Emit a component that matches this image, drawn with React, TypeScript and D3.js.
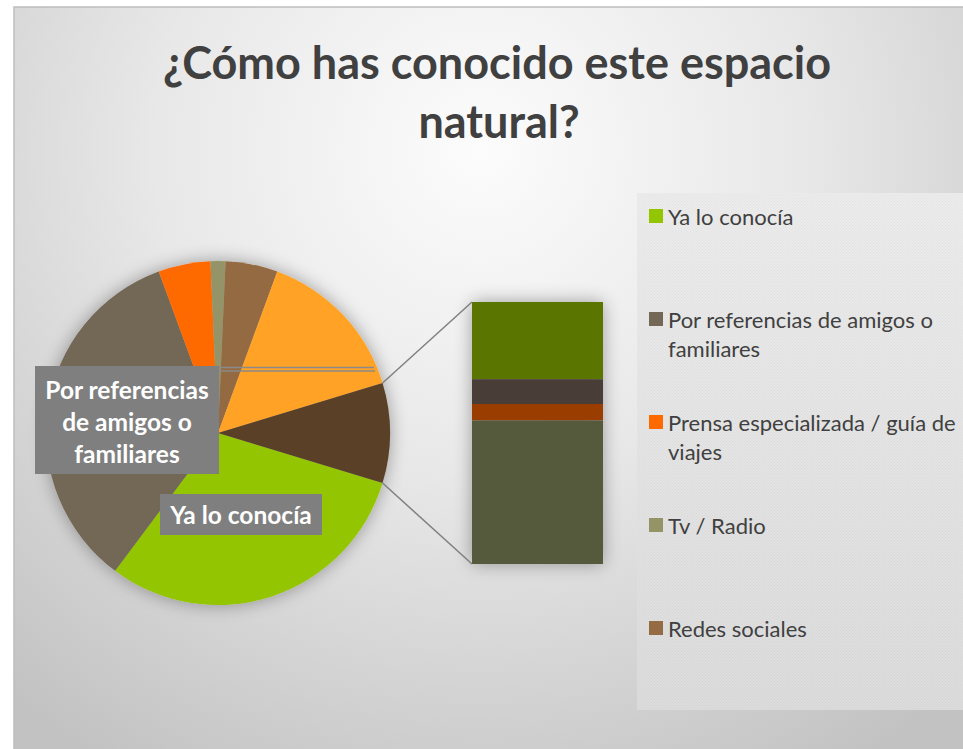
import React from 'react';
import * as d3 from 'd3';

// pie slices, clockwise starting right after the "other" slice
const pieLabels = ['Ya lo conocía', 'Por referencias de amigos o familiares', 'Prensa especializada / guía de viajes', 'Tv / Radio', 'Redes sociales', 'Otros medios', 'Otros'];
const pieValues = [30.5, 34.2, 4.9, 1.4, 4.9, 14.7, 9.4];
const pieColors = ['#93c500', '#736756', '#ff6a00', '#949467', '#946b43', '#ffa225', '#5a4128'];

// second plot (bar), top to bottom
const barValues = [2.77, 0.89, 0.59, 5.15];
const barColors = ['#5a7400', '#483c37', '#9a3c00', '#575a3e'];

const legendLabels = [['Ya lo conocía'], ['Por referencias de amigos o', 'familiares'], ['Prensa especializada / guía de', 'viajes'], ['Tv / Radio'], ['Redes sociales']];
const legendColors = ['#93c500', '#736756', '#ff6a00', '#949467', '#946b43'];

const font = 'Lato, "Open Sans", sans-serif';

export default function App() {
  const cx = 218, cy = 433, r = 172;
  const otherIdx = pieValues.length - 1;
  const total = d3.sum(pieValues);
  const otherAngle = (pieValues[otherIdx] / total) * 2 * Math.PI;
  const start = Math.PI / 2 + otherAngle / 2;

  const pie = d3.pie<number>().sort(null).startAngle(start).endAngle(start + 2 * Math.PI);
  const arcs = pie(pieValues);
  const arc = d3.arc<d3.PieArcDatum<number>>().innerRadius(0).outerRadius(r);

  const barX = 472, barW = 131;
  const y = d3.scaleLinear().domain([0, d3.sum(barValues)]).range([302, 564]);
  let acc = 0;
  const bars = barValues.map((v, i) => {
    const b = { y0: y(acc), y1: y(acc + v), color: barColors[i] };
    acc += v;
    return b;
  });

  const o = arcs[otherIdx];
  const pt = (a: number) => [cx + r * Math.sin(a), cy - r * Math.cos(a)];
  const [ux, uy] = pt(o.startAngle);
  const [lx, ly] = pt(o.endAngle);

  return (
    <svg width={963} height={749} style={{ position: 'absolute', left: 0, top: 0, display: 'block' }}>
      <defs>
        <radialGradient id="bg" gradientUnits="userSpaceOnUse" cx={480} cy={150} r={720}>
          <stop offset="0" stopColor="#fcfcfc" />
          <stop offset="0.45" stopColor="#e8e8e8" />
          <stop offset="1" stopColor="#c2c2c2" />
        </radialGradient>
        <linearGradient id="lg" x1="0" y1="0" x2="0" y2="1">
          <stop offset="0" stopColor="#ececec" />
          <stop offset="1" stopColor="#dcdcdc" />
        </linearGradient>
        <pattern id="dots" width={3} height={3} patternUnits="userSpaceOnUse">
          <rect width={1} height={1} fill="#000" opacity={0.04} />
          <rect x={1.5} y={1.5} width={1} height={1} fill="#000" opacity={0.04} />
        </pattern>
        <filter id="shadow" x="-30%" y="-30%" width="160%" height="160%">
          <feGaussianBlur in="SourceAlpha" stdDeviation={9} />
          <feComponentTransfer>
            <feFuncA type="linear" slope={0.35} />
          </feComponentTransfer>
          <feMerge>
            <feMergeNode />
            <feMergeNode in="SourceGraphic" />
          </feMerge>
        </filter>
      </defs>

      <rect x={0} y={0} width={963} height={749} fill="#fff" />
      <rect x={14} y={7} width={980} height={760} fill="url(#bg)" stroke="#bdbdbd" strokeWidth={1.5} />

      <g fill="#404040" fontFamily={font} fontWeight="bold" fontSize={45} textAnchor="middle">
        <text x={497} y={79}>¿Cómo has conocido este espacio</text>
        <text x={499} y={138}>natural?</text>
      </g>

      <g>
        <rect x={637} y={193} width={340} height={517} fill="url(#lg)" />
        <rect x={637} y={193} width={340} height={517} fill="url(#dots)" />
        {legendLabels.map((lines, i) => {
          const ly0 = 216 + i * 103;
          return (
            <g key={i}>
              <rect x={649} y={ly0 - 7} width={14} height={14} fill={legendColors[i]} />
              {lines.map((t, j) => (
                <text key={j} x={668} y={ly0 + 1 + j * 29} dy="0.35em" fontFamily={font} fontSize={22} fill="#404040">{t}</text>
              ))}
            </g>
          );
        })}
      </g>

      <g filter="url(#shadow)">
        <g transform={`translate(${cx},${cy})`}>
          {arcs.map((a, i) => (
            <path key={i} d={arc(a) || ''} fill={pieColors[i]} />
          ))}
        </g>
      </g>
      <g filter="url(#shadow)">
        {bars.map((b, i) => (
          <rect key={i} x={barX} y={b.y0} width={barW} height={b.y1 - b.y0} fill={b.color} />
        ))}
      </g>

      <line x1={ux} y1={uy} x2={barX} y2={y(0)} stroke="#808080" strokeWidth={1.5} />
      <line x1={lx} y1={ly} x2={barX} y2={y(d3.sum(barValues))} stroke="#808080" strokeWidth={1.5} />

      <line x1={219} y1={367.5} x2={374} y2={367.5} stroke="#8a8a8a" strokeWidth={1.5} />
      <line x1={219} y1={371} x2={375} y2={371} stroke="#8a8a8a" strokeWidth={1.5} />

      <rect x={35} y={366} width={184} height={108} fill="#7f7f7f" />
      <g fill="#fff" fontFamily={font} fontWeight="bold" fontSize={24.5} textAnchor="middle">
        <text x={127} y={390} dy="0.35em">Por referencias</text>
        <text x={127} y={422} dy="0.35em">de amigos o</text>
        <text x={127} y={454} dy="0.35em">familiares</text>
      </g>
      <rect x={160} y={494} width={162} height={41} fill="#7f7f7f" />
      <text x={241} y={515} dy="0.35em" fill="#fff" fontFamily={font} fontWeight="bold" fontSize={24.5} textAnchor="middle">Ya lo conocía</text>
    </svg>
  );
}
